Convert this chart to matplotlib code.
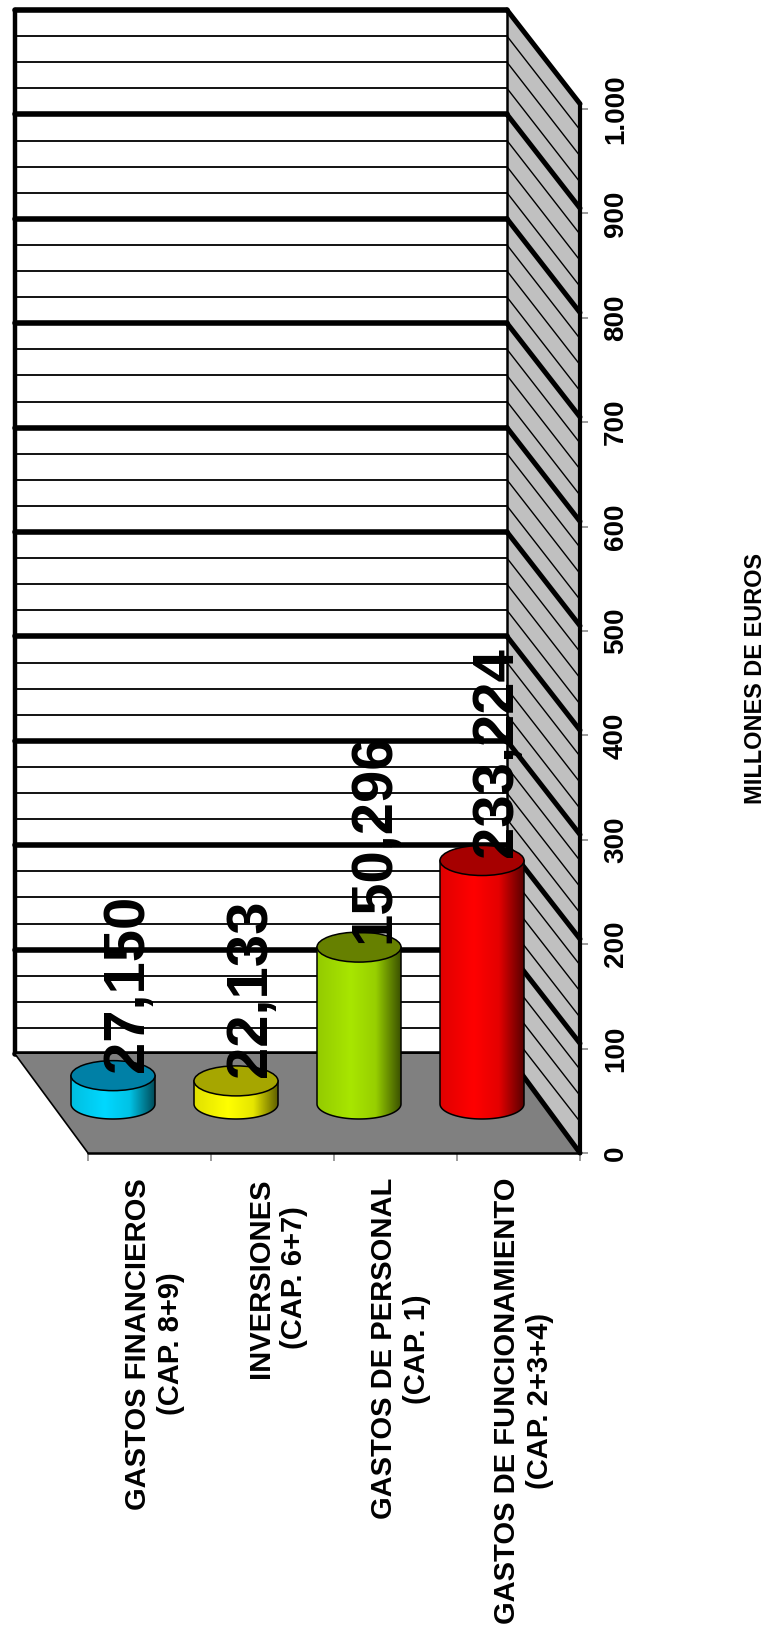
import numpy as np
import matplotlib
matplotlib.use("Agg")
import matplotlib.pyplot as plt
from matplotlib.patches import Polygon, Ellipse, PathPatch
from matplotlib.path import Path
from matplotlib.colors import LinearSegmentedColormap

plt.rcParams['font.family'] = ['Liberation Sans', 'DejaVu Sans']
plt.rcParams['font.weight'] = 'bold'

# Data
categorias = ["GASTOS FINANCIEROS\n(CAP. 8+9)", "INVERSIONES\n(CAP. 6+7)",
              "GASTOS DE PERSONAL\n(CAP. 1)", "GASTOS DE FUNCIONAMIENTO\n(CAP. 2+3+4)"]
valores = [27.150, 22.133, 150.296, 233.224]
etiquetas = ["27,150", "22,133", "150,296", "233,224"]
ticks_mayores = [0, 100, 200, 300, 400, 500, 600, 700, 800, 900, 1000]
ticks_texto = ["0", "100", "200", "300", "400", "500", "600", "700", "800", "900", "1.000"]
ticks_menores = [v for v in range(0, 1001, 25) if v % 100]
colores = ["#00D8FF", "#FFFF00", "#A8E600", "#FF0000"]
colores_tapa = ["#0080A6", "#A6A600", "#668000", "#A60000"]
titulo_eje = "MILLONES DE EUROS"

W, H = 766, 1629
fig = plt.figure(figsize=(W / 100, H / 100), dpi=100)
# the axes is the front plane of the 3D box, the rest hangs outside of it
L, R, B, T = 88, 580, 1153, 109
ax = fig.add_axes([L / W, 1 - B / H, (R - L) / W, (B - T) / H])
ax.patch.set_visible(False)
for s in ax.spines.values():
    s.set_visible(False)

px_x = 4 / (R - L)
px_y = 1000 / (B - T)
fondo_x = 73 * px_x      # depth of the box
fondo_y = 99 * px_y
base_y = 49 * px_y       # bars stand half way in
base_x = fondo_x / 2
ancho = 84 * px_x
alto_elipse = 30 * px_y
NEGRO = "black"


def linea(xs, ys, lw, z=2, color=NEGRO):
    ax.plot(xs, ys, color=color, lw=lw, zorder=z, clip_on=False, solid_capstyle='round')


# back wall, side wall, floor
x0 = -fondo_x
x1 = 4 - fondo_x
ax.add_patch(Polygon([(x0, fondo_y), (x1, fondo_y), (x1, 1000 + fondo_y), (x0, 1000 + fondo_y)],
                     fc="white", ec="none", zorder=1, clip_on=False))
ax.add_patch(Polygon([(x1, fondo_y), (4, 0), (4, 1005), (x1, 1000 + fondo_y)],
                     fc="#C0C0C0", ec="none", zorder=1, clip_on=False))
ax.add_patch(Polygon([(x0, fondo_y), (x1, fondo_y), (4, 0), (0, 0)],
                     fc="#808080", ec="none", zorder=3, clip_on=False))

# grid
for v in ticks_menores:
    linea([x0, x1], [v + fondo_y, v + fondo_y], 1.3)
    linea([x1, 4], [v + fondo_y, v + 5], 1.0)
for v in ticks_mayores:
    linea([x0, x1], [v + fondo_y, v + fondo_y], 4.0)
    linea([x1, 4], [v + fondo_y, v + 5 if v else 0], 3.6, z=4 if v == 0 else 2)
linea([x0, x0], [fondo_y, 1000 + fondo_y], 3.2)
linea([x1, x1], [fondo_y, 1000 + fondo_y], 1.8)
linea([4, 4], [0, 1005], 3.0, z=4)
linea([0, 4], [0, 0], 1.8, z=4)
linea([x0, 0], [fondo_y, 0], 1.2, z=4)

# cylinders
t = np.linspace(np.pi, 2 * np.pi, 60)
for i, v in enumerate(valores):
    cx = i + 0.5 - base_x
    y0 = base_y
    y1 = base_y + v
    xs = cx + ancho / 2 * np.cos(t)
    ys = y0 + alto_elipse / 2 * np.sin(t)
    verts = [(cx - ancho / 2, y1)] + list(zip(xs, ys)) + [(cx + ancho / 2, y1), (cx - ancho / 2, y1)]
    cuerpo = PathPatch(Path(verts), fc="none", ec="none", zorder=5, clip_on=False)
    ax.add_patch(cuerpo)
    c = np.array(matplotlib.colors.to_rgb(colores[i]))
    cmap = LinearSegmentedColormap.from_list("cil", [(0, c * 0.88), (0.4, c), (0.7, c * 0.9), (1, c * 0.35)])
    im = ax.imshow(np.linspace(0, 1, 256)[None, :], extent=[cx - ancho / 2, cx + ancho / 2, y0 - alto_elipse, y1],
                   cmap=cmap, aspect='auto', zorder=5, origin='lower')
    # the first bar sticks out of the axes on the left
    im.set_clip_box(fig.bbox)
    im.set_clip_path(cuerpo)
    # outline of the body
    ax.plot([cx - ancho / 2] + list(xs) + [cx + ancho / 2], [y1] + list(ys) + [y1], color=NEGRO, lw=1.1,
            zorder=6, clip_on=False)
    ax.add_patch(Ellipse((cx, y1), ancho, alto_elipse, fc=colores_tapa[i], ec=NEGRO, lw=1.1, zorder=7, clip_on=False))
    ax.text(cx + 30 * px_x, y1 + 4 * px_y, etiquetas[i], rotation=90, rotation_mode='anchor', ha='left',
            va='baseline', fontsize=41.8, fontweight='bold', color=NEGRO, zorder=10, clip_on=False)

# axes
ax.set_xlim(0, 4)
ax.set_ylim(0, 1000)
ax.yaxis.tick_right()
ax.set_yticks(ticks_mayores)
ax.set_yticklabels(ticks_texto, rotation=90, va='center', ha='left', fontsize=20, fontweight='bold')
ax.set_xticks(range(5))
ax.set_xticklabels([])
ax.tick_params(axis='both', length=6, width=1.1, color="#808080", pad=10.5)

for i, c in enumerate(categorias):
    ax.text(i + 0.5 + 5 * px_x, -25 * px_y, c, rotation=90, ha='center', va='top', multialignment='center',
            fontsize=21, fontweight='bold', linespacing=1.24, clip_on=False)

fig.text(755 / W, 1 - 678 / H, titulo_eje, rotation=90, ha='center', va='center', fontsize=16.9, fontweight='bold')

fig.savefig("out.png", dpi=100)
